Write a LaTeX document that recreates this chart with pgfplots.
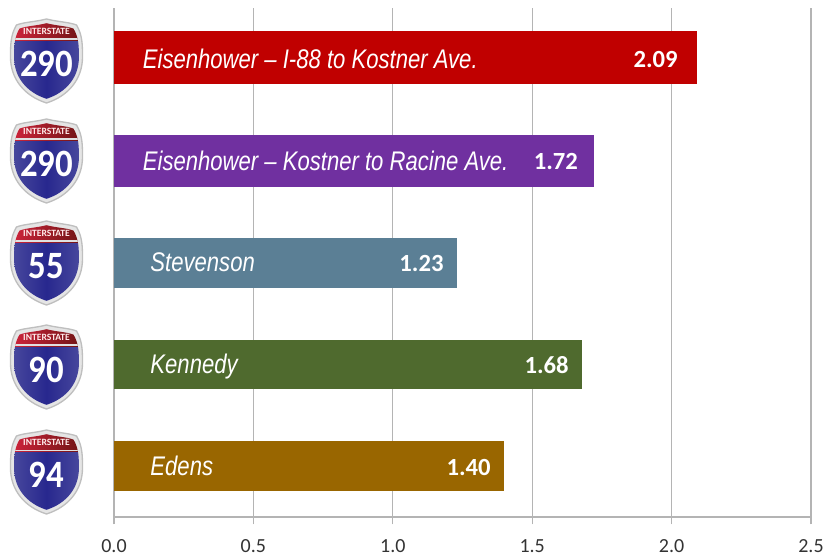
\documentclass[border=0pt]{standalone}
\usepackage{pgfplots}
\usepackage{fontspec}
\setmainfont{Carlito}
\newfontfamily\valfont{Liberation Sans}
\pgfplotsset{compat=1.18}
\definecolor{c1}{HTML}{C00000}
\definecolor{c2}{HTML}{7030A0}
\definecolor{c3}{HTML}{5B7F95}
\definecolor{c4}{HTML}{4F6A2E}
\definecolor{c5}{HTML}{996600}
\definecolor{gridc}{HTML}{B4B4B4}
\definecolor{sblueE}{HTML}{4A4A9E}
\definecolor{sblueM}{HTML}{28288E}
\definecolor{sredL}{HTML}{D0243C}
\definecolor{sredR}{HTML}{6E1414}
\newcommand{\shieldpath}{(0,-42) .. controls (-12,-39) and (-22,-39) .. (-30,-36)
  .. controls (-36,-26) and (-36,-16) .. (-36,-4)
  .. controls (-36,18) and (-22,35) .. (0,42)
  .. controls (22,35) and (36,18) .. (36,-4)
  .. controls (36,-16) and (36,-26) .. (30,-36)
  .. controls (22,-39) and (12,-39) .. (0,-42) -- cycle}
\newcommand{\shield}[3]{%
  \begin{scope}[shift={(46.5,#1)}]
    \fill[black!10] \shieldpath;
    \draw[black!25,line width=1pt] \shieldpath;
    \begin{scope}[scale=0.9]
      \clip \shieldpath;
      \shade[left color=sblueE,right color=sblueE,middle color=sblueM] (-40,-23) rectangle (40,45);
      \shade[left color=sredL,right color=sredR] (-40,-45) rectangle (40,-23);
      \fill[black!12] (-40,-25) rectangle (40,-23);
    \end{scope}
    \node[white!92!red,font=\fontsize{7.2}{7.2}\selectfont\bfseries] at (0,-29.5) {INTERSTATE};
    \node[white,xscale=0.9,font=\fontsize{#3}{#3}\selectfont\bfseries] at (0,3) {#2};
  \end{scope}}
\begin{document}
\begin{tikzpicture}[x=0.75pt,y=-0.75pt]
\path[use as bounding box] (0,0) rectangle (826,556);
\begin{axis}[
  at={(85.5pt,-387.75pt)},anchor=south west,scale only axis,
  width=522.75pt,height=381.75pt,
  xmin=0,xmax=2.5,ymin=-0.5,ymax=4.5,y dir=reverse,
  axis x line=bottom,axis y line=left,
  axis line style={gridc,line width=1.1pt,-},
  xtick={0,0.5,1,1.5,2,2.5},
  xticklabels={0.0,0.5,1.0,1.5,2.0,2.5},
  ytick=\empty,
  xmajorgrids,
  grid style={gridc,line width=0.9pt},
  tick style={gridc,line width=0.9pt},
  tick align=outside,
  major tick length=5.5pt,
  x tick label style={yshift=-8pt,font=\fontsize{15}{15}\selectfont,text=black!80},
  /pgf/number format/assume math mode=true,
  xbar,
  clip=false,
]
\addplot[fill=c1,draw=none,bar width=39.75pt,bar shift=1.1pt] coordinates {(2.09,0)};
\addplot[fill=c2,draw=none,bar width=39pt,bar shift=0pt] coordinates {(1.72,1)};
\addplot[fill=c3,draw=none,bar width=37.5pt,bar shift=0pt] coordinates {(1.23,2)};
\addplot[fill=c4,draw=none,bar width=36.75pt,bar shift=0pt] coordinates {(1.68,3)};
\addplot[fill=c5,draw=none,bar width=37.5pt,bar shift=0pt] coordinates {(1.40,4)};
\tikzset{lab/.style={white,anchor=west,inner sep=0pt,xscale=0.82,yshift=-2pt,text height=14pt,text depth=4pt,font=\fontsize{20.2}{20.2}\selectfont\valfont\itshape},
         val/.style={white,anchor=east,inner sep=0pt,font=\fontsize{18.5}{18.5}\selectfont\bfseries}}
\node[lab] at (axis cs:0.103,0) {Eisenhower – I-88 to Kostner Ave.};
\node[lab] at (axis cs:0.103,1) {Eisenhower – Kostner to Racine Ave.};
\node[lab] at (axis cs:0.13,2) {Stevenson};
\node[lab] at (axis cs:0.13,3) {Kennedy};
\node[lab] at (axis cs:0.13,4) {Edens};
\node[val] at (axis cs:2.023,0.01) {2.09};
\node[val] at (axis cs:1.665,1.01) {1.72};
\node[val] at (axis cs:1.183,2.01) {1.23};
\node[val] at (axis cs:1.632,3.01) {1.68};
\node[val] at (axis cs:1.352,4.01) {1.40};
\end{axis}
\shield{61}{290}{29}
\shield{161}{290}{29}
\shield{263}{55}{29}
\shield{367}{90}{29}
\shield{472}{94}{29}
\end{tikzpicture}
\end{document}
